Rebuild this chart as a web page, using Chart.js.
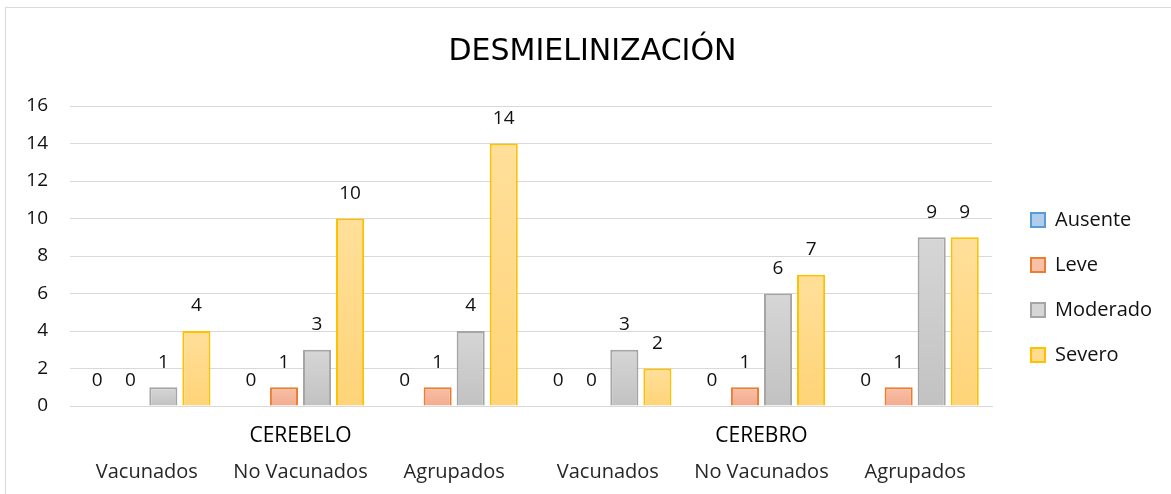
<!DOCTYPE html>
<html>
<head>
<meta charset="utf-8">
<script src="https://cdn.jsdelivr.net/npm/chart.js@4/dist/chart.umd.min.js"></script>
<style>
  html, body { margin: 0; padding: 0; background: #fff; }
  #wrap { position: relative; width: 1171px; height: 494px; overflow: hidden; }
  #frame { position: absolute; left: 5px; top: 7px; width: 1300px; height: 600px;
           border-top: 1.5px solid #d9d9d9; border-left: 1.5px solid #d9d9d9; pointer-events: none; }
  canvas { position: absolute; left: 0; top: 0; }
</style>
</head>
<body>
<div id="wrap">
  <canvas id="c" width="1171" height="494"></canvas>
  <div id="frame"></div>
</div>
<script>
const chartTitle = "DESMIELINIZACIÓN";
const groups = ["CEREBELO", "CEREBRO"];
const subCategories = ["Vacunados", "No Vacunados", "Agrupados"];
const seriesNames = ["Ausente", "Leve", "Moderado", "Severo"];
const ausente  = [0, 0, 0, 0, 0, 0];
const leve     = [0, 1, 1, 0, 1, 1];
const moderado = [1, 3, 4, 3, 6, 9];
const severo   = [4, 10, 14, 2, 7, 9];
const yTicks = [0, 2, 4, 6, 8, 10, 12, 14, 16];

const fills = [
  ["#b0cdee", "#9dbde3"],
  ["#f8c0a8", "#f3ab8e"],
  ["#d6d6d6", "#c2c2c2"],
  ["#ffdf9a", "#ffd478"]
];
const borders = ["#5b9bd5", "#ed7d31", "#a5a5a5", "#ffc000"];
const FONT = "'Open Sans', 'Noto Sans', sans-serif";
const TITLE_FONT = "'DejaVu Sans', 'Open Sans', sans-serif";

const subLabels = [];
const groupLabels = [];
groups.forEach(g => subCategories.forEach((s, i) => {
  subLabels.push(s);
  groupLabels.push(i === 1 ? g : "");
}));

function gradFill(idx) {
  return function(ctx) {
    const chart = ctx.chart;
    const area = chart.chartArea;
    if (!area || ctx.type !== 'data') return fills[idx][0];
    const ys = chart.scales.y;
    const v = ctx.raw || 0;
    const top = ys.getPixelForValue(v);
    const bottom = ys.getPixelForValue(0);
    if (bottom - top < 1) return fills[idx][0];
    const g = chart.ctx.createLinearGradient(0, top, 0, bottom);
    g.addColorStop(0, fills[idx][0]);
    g.addColorStop(1, fills[idx][1]);
    return g;
  };
}

const seriesData = [ausente, leve, moderado, severo];
const datasets = seriesNames.map((name, i) => ({
  label: name,
  data: seriesData[i],
  xAxisID: 'x',
  backgroundColor: gradFill(i),
  borderColor: borders[i],
  borderWidth: 2,
  borderSkipped: 'bottom',
  categoryPercentage: 0.86,
  barPercentage: 0.85
}));

const valueLabels = {
  id: 'valueLabels',
  afterDatasetsDraw(chart) {
    const ctx = chart.ctx;
    ctx.save();
    ctx.font = "19px " + FONT;
    ctx.fillStyle = "#111";
    ctx.textAlign = "center";
    ctx.textBaseline = "middle";
    chart.data.datasets.forEach((ds, di) => {
      const meta = chart.getDatasetMeta(di);
      meta.data.forEach((el, j) => {
        ctx.fillText(String(ds.data[j]), el.x, el.y - 25);
      });
    });
    ctx.restore();
  }
};

const legendPlace = {
  id: 'legendPlace',
  beforeLayout(chart) {
    const lg = chart.legend;
    if (lg && !lg._fixedW) {
      const f = lg.fit;
      lg.fit = function() { f.call(this); this.width = 165; };
      lg._fixedW = true;
    }
  },
  afterLayout(chart) {
    const lg = chart.legend;
    if (lg) {
      const h = lg.height, w = lg.width;
      lg.left = 1006; lg.right = lg.left + w;
      lg.top = 185; lg.bottom = lg.top + h;
    }
    const tb = chart.titleBlock;
    if (tb) {
      tb.left = 14; tb.right = 1171;
    }
  }
};

new Chart(document.getElementById('c'), {
  type: 'bar',
  data: { labels: subLabels, datasets: datasets },
  plugins: [valueLabels, legendPlace],
  options: {
    responsive: false,
    animation: false,
    devicePixelRatio: 1,
    layout: { padding: { left: 0, right: 14, top: 0, bottom: 0 } },
    plugins: {
      title: {
        display: true,
        text: chartTitle,
        color: "#000",
        font: { family: TITLE_FONT, size: 30, weight: 'normal', lineHeight: 1.2 },
        padding: { top: 34, bottom: 36 }
      },
      legend: {
        position: 'right',
        align: 'start',
        labels: {
          boxWidth: 14,
          boxHeight: 14,
          padding: 25,
          color: "#111",
          font: { family: FONT, size: 20 }
        }
      },
      tooltip: { enabled: false }
    },
    scales: {
      x2: {
        type: 'category',
        position: 'bottom',
        labels: groupLabels,
        offset: true,
        weight: 0,
        grid: { display: false, drawTicks: false },
        border: { display: true, color: "#d9d9d9", width: 1 },
        ticks: {
          color: "#000",
          font: { family: FONT, size: 21, lineHeight: 1.2 },
          padding: 17,
          maxRotation: 0,
          autoSkip: false
        },
        afterFit(scale) { scale.height = 50; }
      },
      x: {
        type: 'category',
        position: 'bottom',
        offset: true,
        weight: 1,
        grid: { display: false, drawTicks: false },
        border: { display: false },
        ticks: {
          color: "#262626",
          font: { family: FONT, size: 20, lineHeight: 1.2 },
          padding: 4,
          maxRotation: 0,
          autoSkip: false
        },
        afterFit(scale) { scale.height = 38; }
      },
      y: {
        min: 0,
        max: 16,
        afterBuildTicks(scale) { scale.ticks = yTicks.map(v => ({ value: v })); },
        grid: { color: "#d9d9d9", lineWidth: 1, drawTicks: false },
        border: { display: false },
        ticks: {
          color: "#111",
          font: { family: FONT, size: 19 },
          padding: 22
        },
        afterFit(scale) { scale.width = 70; }
      }
    }
  }
});
</script>
</body>
</html>
